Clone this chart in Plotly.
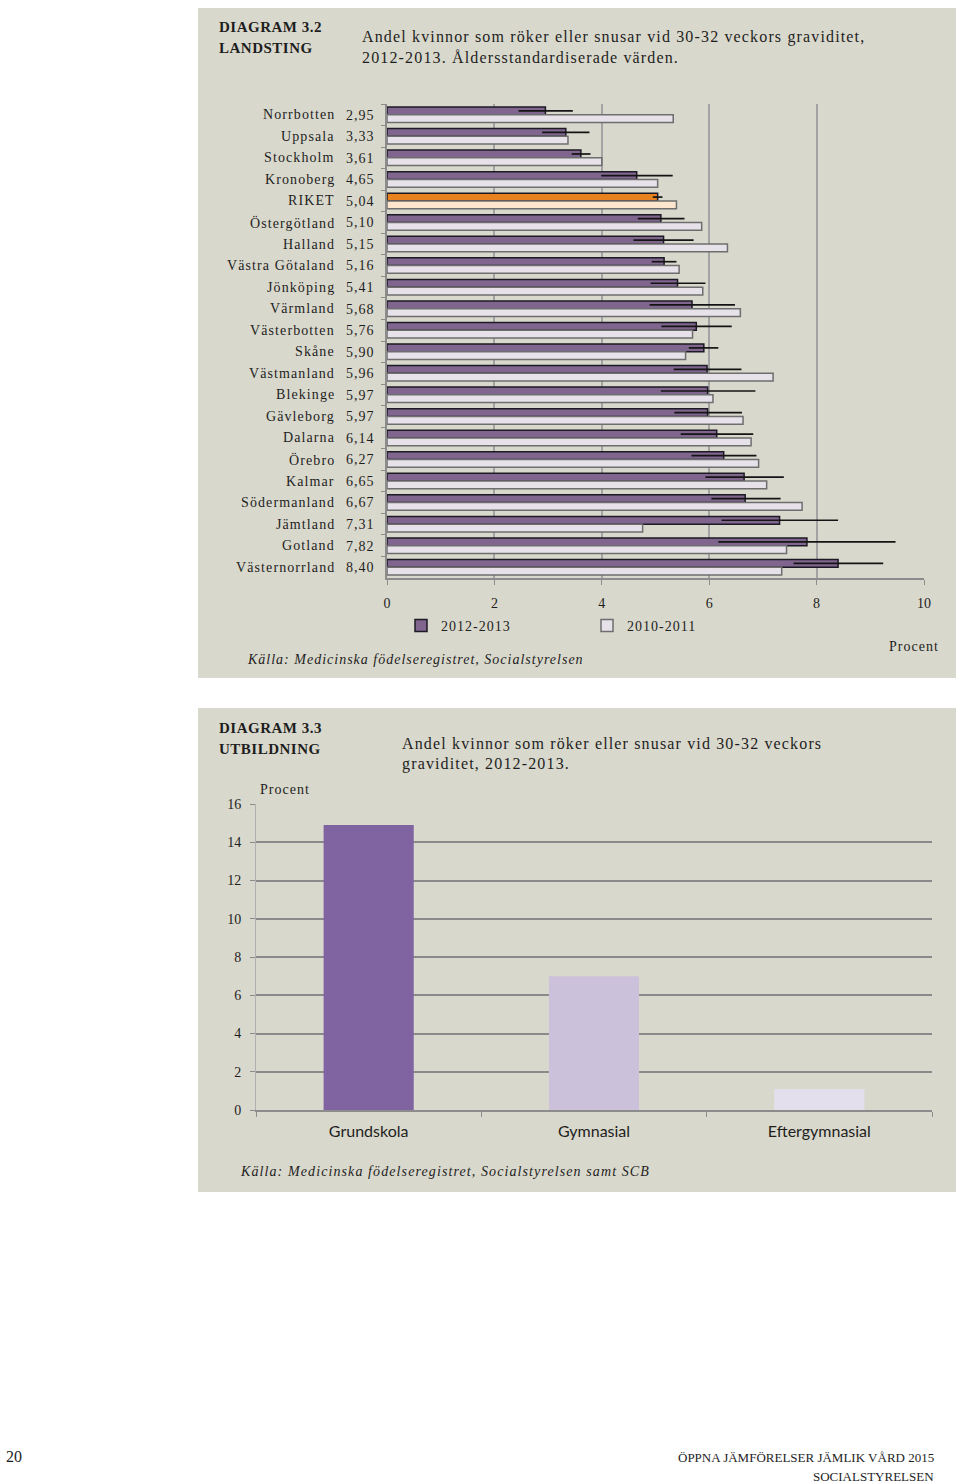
import plotly.graph_objects as go

W, H = 960, 1484

# ---------------- data: diagram 3.2 ----------------
regions = ["Norrbotten", "Uppsala", "Stockholm", "Kronoberg", "RIKET", "Östergötland",
           "Halland", "Västra Götaland", "Jönköping", "Värmland", "Västerbotten", "Skåne",
           "Västmanland", "Blekinge", "Gävleborg", "Dalarna", "Örebro", "Kalmar",
           "Södermanland", "Jämtland", "Gotland", "Västernorrland"]
v2012 = [2.95, 3.33, 3.61, 4.65, 5.04, 5.10, 5.15, 5.16, 5.41, 5.68, 5.76, 5.90,
         5.96, 5.97, 5.97, 6.14, 6.27, 6.65, 6.67, 7.31, 7.82, 8.40]
ci_low = [2.45, 2.89, 3.44, 3.99, 4.95, 4.67, 4.59, 4.93, 4.91, 4.89, 5.11, 5.62,
          5.34, 5.10, 5.35, 5.47, 5.67, 5.93, 6.04, 6.23, 6.17, 7.57]
ci_high = [3.46, 3.77, 3.79, 5.32, 5.13, 5.54, 5.71, 5.39, 5.93, 6.48, 6.42, 6.17,
           6.60, 6.86, 6.61, 6.82, 6.88, 7.39, 7.33, 8.40, 9.47, 9.24]
v2010 = [5.33, 3.37, 4.00, 5.04, 5.39, 5.86, 6.34, 5.44, 5.88, 6.58, 5.69, 5.56,
         7.19, 6.07, 6.63, 6.78, 6.92, 7.07, 7.73, 4.76, 7.44, 7.35]
x_ticks = [0, 2, 4, 6, 8, 10]

# ---------------- data: diagram 3.3 ----------------
edu = ["Grundskola", "Gymnasial", "Eftergymnasial"]
edu_vals = [14.9, 7.0, 1.1]
y2_ticks = [0, 2, 4, 6, 8, 10, 12, 14, 16]

# ---------------- styles ----------------
SERIF = "Liberation Serif, DejaVu Serif, serif"
SANS = "Lato, Open Sans, sans-serif"
TXT = "#1e1e1e"
BEIGE = "#D9D8CC"
GRID = "#A3A3A3"
PURPLE = "#80658F"
LILAC = "#E7E2EA"
ORANGE = "#E8821E"
PEACH = "#FDE6CD"
edu_colors = ["#8064A2", "#CCC1DA", "#E4DFEC"]


def px(x):
    return x / W


def py(y):
    return 1 - y / H


def ls(text, sp):
    return f'<span style="letter-spacing:{sp}px">{text}</span>'


fmt = lambda v: f"{v:.2f}".replace(".", ",")

col2012 = [ORANGE if r == "RIKET" else PURPLE for r in regions]
col2010 = [PEACH if r == "RIKET" else LILAC for r in regions]

fig = go.Figure()

fig.add_trace(go.Bar(
    y=regions, x=v2012, orientation="h", name=ls("2012-2013", 1),
    marker=dict(color=col2012, line=dict(color="#1C1A24", width=1.5)),
    error_x=dict(type="data", symmetric=False,
                 array=[h - v for h, v in zip(ci_high, v2012)],
                 arrayminus=[v - l for l, v in zip(ci_low, v2012)],
                 color="#141414", thickness=1.7, width=0),
    xaxis="x", yaxis="y", hoverinfo="skip",
))
fig.add_trace(go.Bar(
    y=regions, x=v2010, orientation="h", name=ls("2010-2011", 1),
    marker=dict(color=col2010, line=dict(color="#6E6E6E", width=1.5)),
    xaxis="x", yaxis="y", hoverinfo="skip",
))
fig.add_trace(go.Bar(
    x=edu, y=edu_vals, marker=dict(color=edu_colors, line=dict(width=0)),
    width=0.4, showlegend=False, xaxis="x2", yaxis="y2", hoverinfo="skip",
))

annotations = []
for r in regions:
    annotations.append(dict(x=px(337), y=r, xref="paper", yref="y", text=ls(r, 1.1),
                            xanchor="right", yanchor="middle", showarrow=False,
                            font=dict(family=SERIF, size=14, color=TXT)))


def note(x, y, text, size=14, anchor="left", bold=False, italic=False, font=SERIF, sp=1.0):
    if sp:
        text = ls(text, sp)
    if bold:
        text = f"<b>{text}</b>"
    if italic:
        text = f"<i>{text}</i>"
    annotations.append(dict(x=px(x), y=py(y), xref="paper", yref="paper", text=text,
                            xanchor=anchor, yanchor="middle", showarrow=False,
                            font=dict(family=font, size=size, color=TXT)))


note(217, 27, "DIAGRAM 3.2", 15, bold=True, sp=0.5)
note(217, 48, "LANDSTING", 15, bold=True, sp=0.5)
note(360, 37, "Andel kvinnor som röker eller snusar vid 30-32 veckors graviditet,", 16, sp=1.15)
note(360, 58, "2012-2013. Åldersstandardiserade värden.", 16, sp=1.15)
note(941, 646, "Procent", 14, anchor="right", sp=1.0)
note(245, 659, "Källa: Medicinska födelseregistret, Socialstyrelsen", 14, italic=True, sp=1.0)

note(217, 728, "DIAGRAM 3.3", 15, bold=True, sp=0.5)
note(217, 749, "UTBILDNING", 15, bold=True, sp=0.5)
note(400, 743, "Andel kvinnor som röker eller snusar vid 30-32 veckors", 16, sp=1.15)
note(400, 764, "graviditet, 2012-2013.", 16, sp=1.15)
note(258, 789, "Procent", 14, sp=1.0)
note(238, 1171, "Källa: Medicinska födelseregistret, Socialstyrelsen samt SCB", 14, italic=True, sp=1.1)

note(4, 1456, "20", 16, sp=0)
note(936, 1457, "ÖPPNA JÄMFÖRELSER JÄMLIK VÅRD 2015", 13, anchor="right", sp=0)
note(936, 1476, "SOCIALSTYRELSEN", 13, anchor="right", sp=0)

shapes = [
    dict(type="rect", xref="paper", yref="paper", x0=px(198), x1=px(956),
         y0=py(678), y1=py(8), fillcolor=BEIGE, line=dict(width=0), layer="below"),
    dict(type="rect", xref="paper", yref="paper", x0=px(198), x1=px(956),
         y0=py(1192), y1=py(708), fillcolor=BEIGE, line=dict(width=0), layer="below"),
]

fig.update_layout(
    width=W, height=H, margin=dict(l=0, r=0, t=0, b=0, autoexpand=False),
    paper_bgcolor="white", plot_bgcolor="white",
    barmode="group", bargap=0.28, bargroupgap=0,
    showlegend=True,
    legend=dict(orientation="h", x=px(401), y=py(626), xanchor="left", yanchor="middle",
                traceorder="normal", bgcolor="rgba(0,0,0,0)",
                entrywidth=141, entrywidthmode="pixels",
                font=dict(family=SERIF, size=14, color=TXT)),
    xaxis=dict(domain=[px(387), px(924)], range=[0, 10], tickvals=x_ticks,
               showgrid=True, gridcolor=GRID, gridwidth=1.5, zeroline=False,
               showline=True, linecolor="#8C8C8C", linewidth=1.5,
               ticks="outside", ticklen=5, tickcolor="#8C8C8C", ticklabelstandoff=6,
               tickfont=dict(family=SERIF, size=14, color=TXT), anchor="y",
               fixedrange=True, automargin=False),
    yaxis=dict(domain=[py(578), py(104)], type="category", categoryorder="array",
               categoryarray=regions, autorange="reversed",
               tickmode="array", tickvals=regions, ticktext=[ls(fmt(v), 1) for v in v2012],
               showgrid=False, showline=True, linecolor="#8C8C8C", linewidth=1.5,
               ticks="outside", ticklen=4, tickcolor="#8C8C8C", tickson="boundaries",
               ticklabelstandoff=8,
               tickfont=dict(family=SERIF, size=14, color=TXT), anchor="x",
               fixedrange=True, automargin=False),
    xaxis2=dict(domain=[px(256), px(932)], type="category", categoryorder="array",
                categoryarray=edu, showgrid=False, zeroline=False,
                showline=True, linecolor="#8C8C8C", linewidth=1.5,
                ticks="outside", ticklen=5, tickcolor="#8C8C8C", tickson="boundaries",
                ticklabelstandoff=6,
                tickfont=dict(family=SANS, size=16, color=TXT), anchor="y2",
                fixedrange=True, automargin=False),
    yaxis2=dict(domain=[py(1110), py(804)], range=[0, 16], tickvals=y2_ticks,
                showgrid=True, gridcolor="#8A8A8A", gridwidth=1.5, zeroline=False,
                showline=True, linecolor="#B0B0B0", linewidth=1,
                ticks="outside", ticklen=5, tickcolor="#8A8A8A", ticklabelstandoff=6,
                tickfont=dict(family=SERIF, size=14, color=TXT), anchor="x2",
                fixedrange=True, automargin=False),
    annotations=annotations, shapes=shapes,
)

fig.write_html(
    "out.html",
    config={"displayModeBar": False},
    post_script=("document.body.style.margin='0px';"
                 "document.documentElement.style.overflow='hidden';"
                 "document.body.style.overflow='hidden';"),
)
